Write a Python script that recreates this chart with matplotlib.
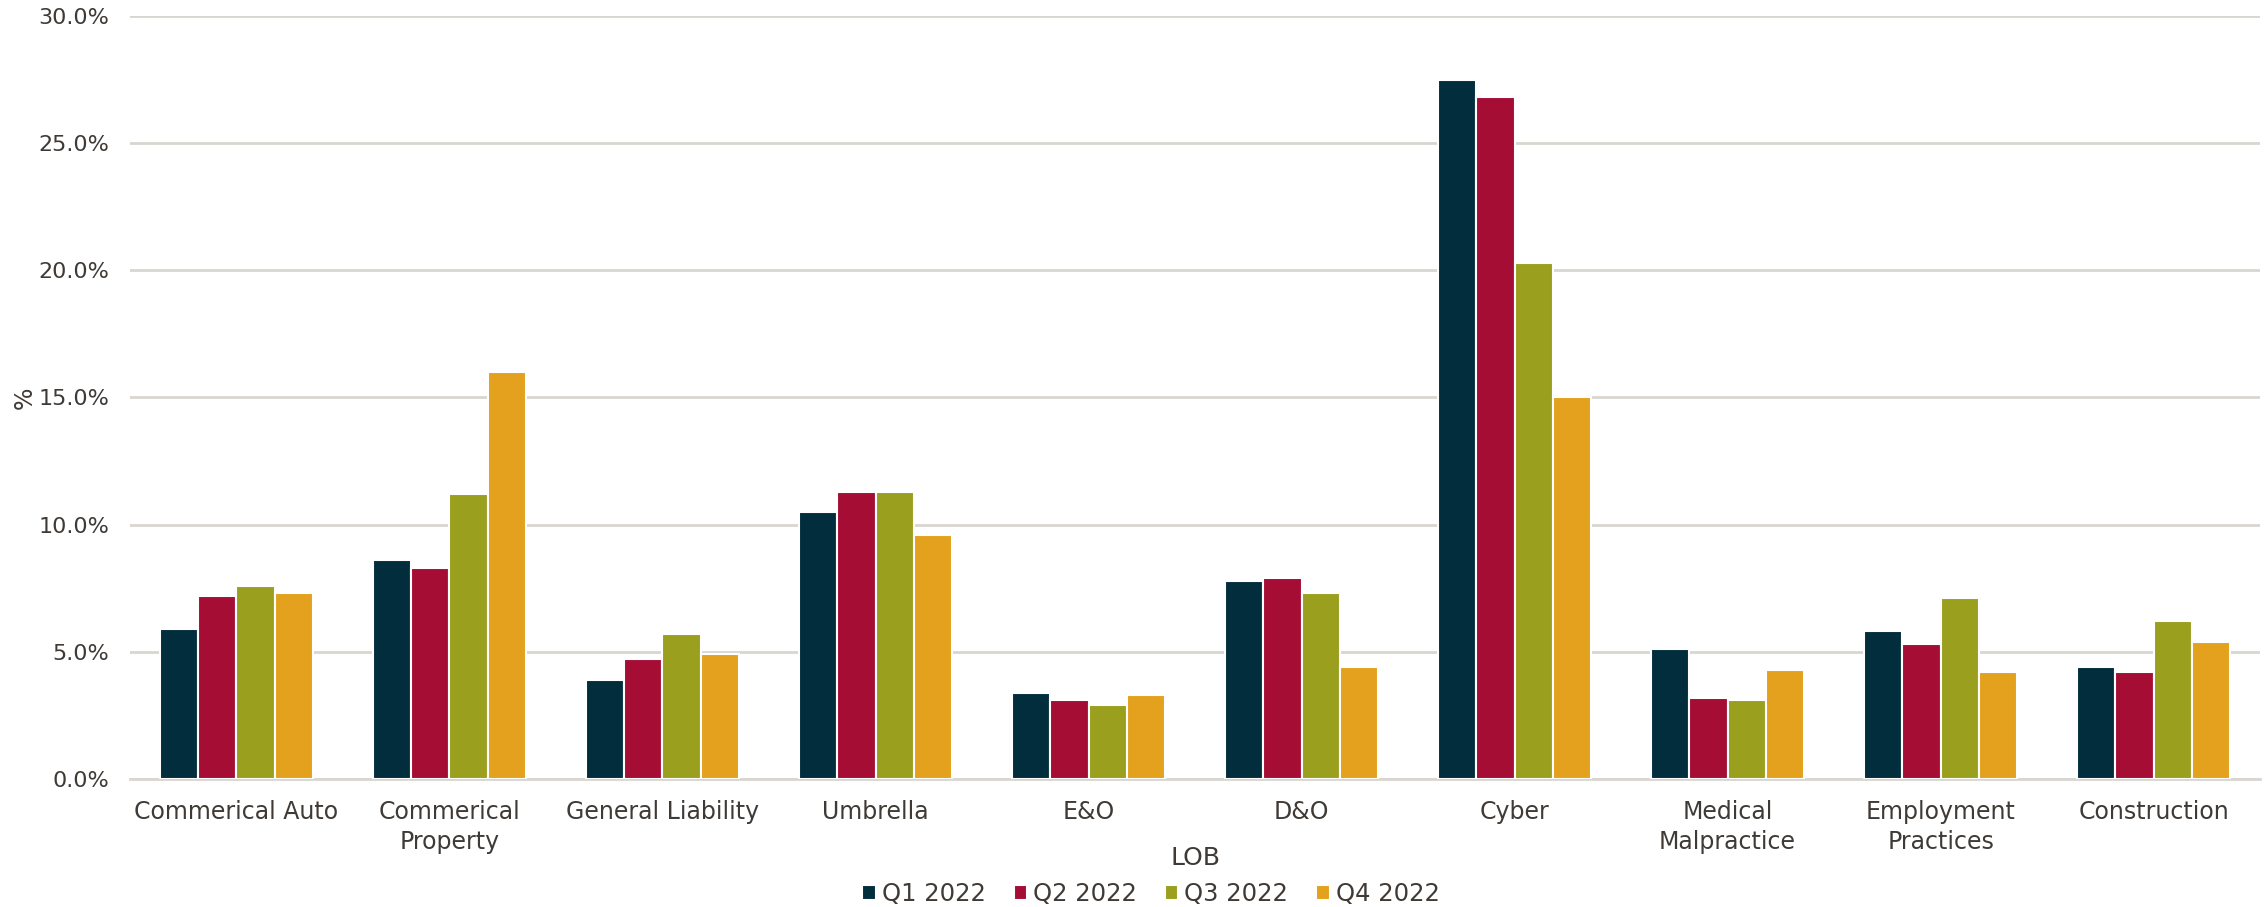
import numpy as np
import matplotlib
matplotlib.use("Agg")
import matplotlib.pyplot as plt
from matplotlib.ticker import PercentFormatter, MultipleLocator

# Lines of business (x categories)
categories = [
    "Commerical Auto", "Commerical\nProperty", "General Liability", "Umbrella",
    "E&O", "D&O", "Cyber", "Medical\nMalpractice", "Employment\nPractices",
    "Construction",
]

# Percent values per quarter
q1_2022 = [5.9, 8.6, 3.9, 10.5, 3.4, 7.8, 27.5, 5.1, 5.8, 4.4]
q2_2022 = [7.2, 8.3, 4.7, 11.3, 3.1, 7.9, 26.8, 3.2, 5.3, 4.2]
q3_2022 = [7.6, 11.2, 5.7, 11.3, 2.9, 7.3, 20.3, 3.1, 7.1, 6.2]
q4_2022 = [7.3, 16.0, 4.9, 9.6, 3.3, 4.4, 15.0, 4.3, 4.2, 5.4]

series_names = ["Q1 2022", "Q2 2022", "Q3 2022", "Q4 2022"]
colors = ["#012d3d", "#a50d35", "#9a9f1e", "#e3a11e"]
TEXT = "#3f3a36"
GRID = "#d9d5d0"


def main():
    plt.rcParams["font.family"] = ["DejaVu Sans"]
    fig = plt.figure(figsize=(22.67, 9.07), dpi=100)
    ax = fig.add_axes([0.0573, 0.1411, 0.9397, 0.8413])

    x = np.arange(len(categories))
    width = 0.18
    all_series = [q1_2022, q2_2022, q3_2022, q4_2022]
    for i, (vals, name, c) in enumerate(zip(all_series, series_names, colors)):
        offs = (i - 1.5) * width
        ax.bar(x + offs, vals, width, color=c, edgecolor="white",
               linewidth=1.5, label=name, zorder=3)

    ax.set_xlim(-0.5, len(categories) - 0.5)
    ax.set_ylim(0, 30)
    ax.yaxis.set_major_locator(MultipleLocator(5))
    ax.yaxis.set_major_formatter(PercentFormatter(decimals=1))
    ax.grid(axis="y", color=GRID, linewidth=2, zorder=0)
    for s in ["top", "right", "left"]:
        ax.spines[s].set_visible(False)
    ax.spines["bottom"].set_color(GRID)
    ax.spines["bottom"].set_linewidth(2)

    ax.set_xticks(x)
    ax.set_xticklabels(categories, fontsize=17, color=TEXT, linespacing=1.3)
    ax.tick_params(axis="x", length=0, pad=15)
    ax.tick_params(axis="y", length=0, pad=15, labelsize=16, labelcolor=TEXT)

    # axis titles placed like the original
    ax.set_xlabel("LOB", fontsize=18, color=TEXT)
    ax.xaxis.label.set_va("center")
    ax.xaxis.set_label_coords(0.5, -0.103)
    ax.set_ylabel("%", fontsize=17, color=TEXT)
    ax.yaxis.set_label_coords(-0.0437, 0.5)

    fig.legend(loc="center", bbox_to_anchor=(0.5077, 0.014), ncol=4,
               frameon=False, fontsize=17.5, handlelength=0.55, handleheight=0.55,
               handletextpad=0.25, columnspacing=1.15, labelcolor=TEXT,
               borderpad=0, borderaxespad=0)

    fig.savefig("out.png", dpi=100)


if __name__ == "__main__":
    main()
